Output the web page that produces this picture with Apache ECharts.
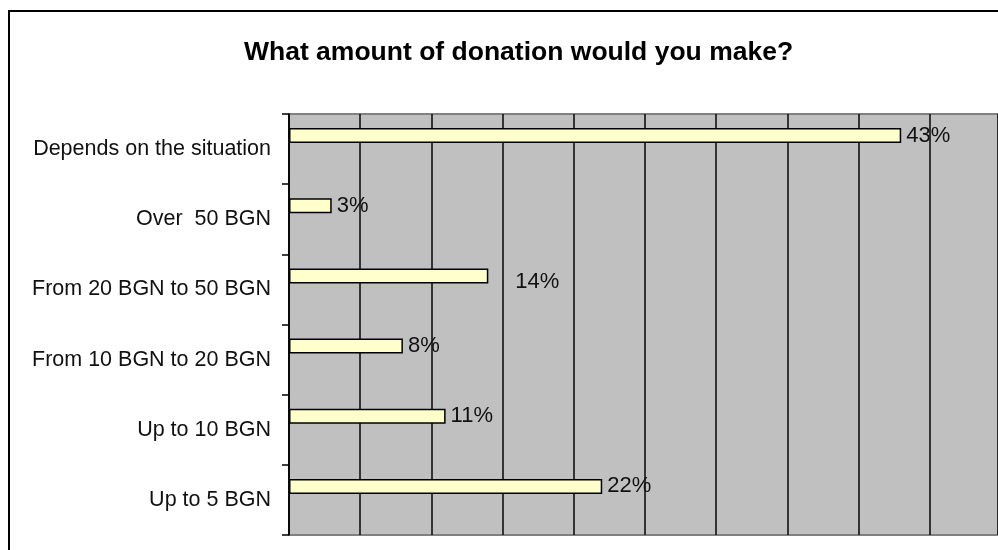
<!DOCTYPE html>
<html>
<head>
<meta charset="utf-8">
<script src="https://cdn.jsdelivr.net/npm/echarts@6/dist/echarts.min.js"></script>
<style>
  html, body { margin: 0; padding: 0; background: #fff; }
  #chart { width: 998px; height: 550px; }
</style>
</head>
<body>
<div id="chart"></div>
<script>
// Survey answers, listed top to bottom
const categories = [
  'Depends on the situation',
  'Over  50 BGN',
  'From 20 BGN to 50 BGN',
  'From 10 BGN to 20 BGN',
  'Up to 10 BGN',
  'Up to 5 BGN'
];
// Share of respondents, percent
const shares = [43, 3, 14, 8, 11, 22];
// Empty companion series that keeps each bar in the upper half of its row
const companion = ['-', '-', '-', '-', '-', '-'];

const FONT = '"Liberation Sans", Arial, sans-serif';

const chart = echarts.init(document.getElementById('chart'), null, { renderer: 'canvas' });

const barData = shares.map((v, i) => {
  // The label of the 20–50 BGN answer sits a little apart from its bar
  if (i === 2) return { value: v, label: { offset: [22, 6] } };
  return v;
});

chart.setOption({
  animation: false,
  backgroundColor: '#ffffff',
  title: {
    text: 'What amount of donation would you make?',
    left: 239,
    top: 34,
    textStyle: { fontFamily: FONT, fontWeight: 'bold', fontSize: 26.5, color: '#000' }
  },
  graphic: [{
    type: 'rect',
    shape: { x: 9, y: 11, width: 1100, height: 700 },
    style: { fill: 'none', stroke: '#000', lineWidth: 2 },
    silent: true
  }],
  grid: {
    left: 289,
    right: 0,
    top: 114,
    height: 421,
    show: true,
    backgroundColor: '#c0c0c0',
    borderColor: '#808080',
    borderWidth: 2
  },
  xAxis: {
    type: 'value',
    min: 0,
    max: 49.8,
    interval: 5,
    axisLabel: { show: false },
    axisLine: { show: false },
    axisTick: { show: false },
    splitLine: { show: true, lineStyle: { color: '#111', width: 1.6 } }
  },
  yAxis: {
    type: 'category',
    inverse: true,
    data: categories,
    axisLine: { show: true, lineStyle: { color: '#000', width: 1.5 } },
    axisTick: { show: true, length: 7, lineStyle: { color: '#000', width: 1.5 } },
    axisLabel: { margin: 18, fontFamily: FONT, fontSize: 21.5, color: '#111' },
    splitLine: { show: false }
  },
  series: [
    {
      type: 'bar',
      data: barData,
      barWidth: 15,
      barGap: '80%',
      itemStyle: { color: '#ffffcc', borderColor: '#000', borderWidth: 1.5 },
      label: {
        show: true,
        position: 'right',
        distance: 5,
        formatter: '{c}%',
        fontFamily: FONT,
        fontSize: 22,
        color: '#111'
      }
    },
    {
      type: 'bar',
      data: companion,
      barWidth: 15,
      barGap: '80%',
      silent: true
    }
  ]
});
</script>
</body>
</html>
